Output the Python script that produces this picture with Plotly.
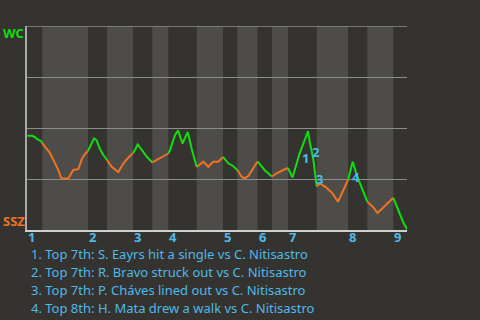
import plotly.graph_objects as go

# Game progress (arbitrary units along the game) and WC win probability (%)
progress = [0.5, 5, 8, 10, 14, 15.3,
            18.7, 23, 28, 31.3, 34, 35.3, 41.3, 46.3, 51.3, 55.3, 58, 61,
            64, 67, 69.5, 73, 76.3, 80,
            84.7, 91.3, 96.3, 101, 106,
            108, 110.7, 114.7, 119.7, 125.3,
            129.7, 134.7, 139.7, 141.3,
            143, 148, 151, 155.5, 160.7, 165, 169.7,
            176.3, 181.3, 186.3, 191.3, 196,
            201.3, 206, 210.3,
            214.7, 218, 221.3, 230.5,
            238, 245,
            249.7, 256.3, 261,
            265.5, 272.5, 276.7, 281, 283, 286.3, 289.7,
            293, 298, 304.7, 311, 316.3, 321,
            325.7, 330, 334.7, 340.3,
            346, 350.5, 357, 366.3,
            371.3, 376.3, 380.5]
wc_win_pct = [46.2, 46.2, 45.6, 44.6, 43.6, 42.6,
              40.3, 37.7, 32.8, 29.4, 25.7, 25.2, 25.2, 29.4, 29.8, 35.3, 37.3, 38.7,
              41.7, 44.9, 44.1, 39.7, 36.8, 34.3,
              31.0, 28.4, 32.6, 35.3, 37.7,
              39.2, 41.9, 39.2, 36.0, 33.1,
              34.3, 35.4, 36.8, 37.5,
              39.2, 46.6, 48.8, 42.4, 48.0, 39.2, 30.9,
              33.5, 31.0, 33.5, 33.5, 35.8,
              32.7, 31.4, 29.4,
              26.1, 25.3, 26.5, 33.6,
              29.2, 26.2,
              27.8, 29.4, 30.4,
              25.7, 37.3, 43.3, 48.4, 42.5, 34.8, 21.4,
              22.8, 21.3, 18.4, 13.9, 19.6, 24.5,
              33.5, 26.5, 20.4, 13.9,
              11.3, 8.3, 11.4, 15.8,
              9.6, 3.7, 0.0]

# Half-inning boundaries along the progress axis (top 1, bot 1, top 2, ...)
half_bounds = [0, 15.3, 61, 80, 106, 125.3, 141.3, 169.7, 196, 210.3, 230.5,
               245, 261, 289.7, 321, 340.3, 366.3, 380.5]
inning_labels = ["1", "2", "3", "4", "5", "6", "7", "8", "9"]

# Key events
event_labels = ["1", "2", "3", "4"]
event_x = [278, 288, 292.3, 329]
event_y = [35.1, 38.4, 25.0, 26.1]
event_texts = [
    "1. Top 7th: S. Eayrs hit a single vs C. Nitisastro",
    "2. Top 7th: R. Bravo struck out vs C. Nitisastro",
    "3. Top 7th: P. Cháves lined out vs C. Nitisastro",
    "4. Top 8th: H. Mata drew a walk vs C. Nitisastro",
]

BG = "#353330"
BAND = "#4e4c49"
GREEN = "#11dd11"
ORANGE = "#ee7322"
BLUE = "#4fb9e9"
GRID = "#8c8c8a"
FONT = "Noto Sans"

fig = go.Figure()

# line segments, coloured per half inning
for i in range(len(half_bounds) - 1):
    lo, hi = half_bounds[i], half_bounds[i + 1]
    xs = [x for x in progress if lo <= x <= hi]
    ys = [y for x, y in zip(progress, wc_win_pct) if lo <= x <= hi]
    fig.add_trace(go.Scatter(
        x=xs, y=ys, mode="lines",
        line=dict(color=GREEN if i % 2 == 0 else ORANGE, width=2),
        hoverinfo="skip", showlegend=False))

shapes = []
for i in range(len(half_bounds) - 1):
    if i % 2 == 1:
        shapes.append(dict(type="rect", xref="x", yref="paper",
                           x0=half_bounds[i], x1=half_bounds[i + 1], y0=0, y1=1,
                           fillcolor=BAND, line=dict(width=0), layer="below"))
# top gridline (100%)
shapes.append(dict(type="line", xref="paper", yref="y", x0=0, x1=1, y0=100, y1=100,
                   line=dict(color=GRID, width=1.5), layer="above"))

annotations = []
for k, lab in enumerate(inning_labels):
    annotations.append(dict(x=half_bounds[2 * k], y=0, xref="x", yref="paper",
                            text="<b>%s</b>" % lab, showarrow=False,
                            xanchor="left", yanchor="top", xshift=-1, yshift=4,
                            font=dict(family=FONT, size=13, color=BLUE)))
for lab, ex, ey in zip(event_labels, event_x, event_y):
    annotations.append(dict(x=ex, y=ey, xref="x", yref="y", text="<b>%s</b>" % lab,
                            showarrow=False, xanchor="center", yanchor="middle",
                            font=dict(family=FONT, size=13, color=BLUE)))
line_y = [-0.1176, -0.205, -0.293, -0.381]
for t, ly in zip(event_texts, line_y):
    annotations.append(dict(x=2 / 380, y=ly, xref="paper", yref="paper", text=t,
                            showarrow=False, xanchor="left", yanchor="middle",
                            font=dict(family=FONT, size=13, color=BLUE)))
annotations.append(dict(x=-26 / 380, y=1 - 7 / 204, xref="paper", yref="paper",
                        text="<b>WC</b>", showarrow=False, xanchor="left", yanchor="middle",
                        font=dict(family=FONT, size=13, color=GREEN)))
annotations.append(dict(x=-26 / 380, y=9 / 204, xref="paper", yref="paper",
                        text="<b>SSZ</b>", showarrow=False, xanchor="left", yanchor="middle",
                        font=dict(family=FONT, size=13, color=ORANGE)))

fig.update_layout(
    width=480, height=320,
    margin=dict(l=27, r=73, t=26, b=90, pad=0),
    paper_bgcolor=BG, plot_bgcolor=BG,
    shapes=shapes, annotations=annotations,
    xaxis=dict(range=[0, 380], showgrid=False, zeroline=False, showticklabels=False,
               ticks="", showline=True, linecolor="#d0d0d0", linewidth=2, fixedrange=True),
    yaxis=dict(range=[0, 100], tickvals=[25, 50, 75], showgrid=True,
               gridcolor=GRID, gridwidth=1, zeroline=False, showticklabels=False,
               ticks="", showline=True, linecolor="#a8a8a6", linewidth=2, fixedrange=True),
)

fig.write_html("out.html", config={"displayModeBar": False})
